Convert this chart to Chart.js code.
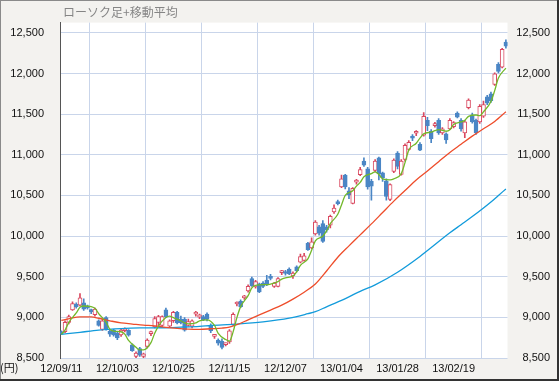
<!DOCTYPE html>
<html lang="ja">
<head>
<meta charset="utf-8">
<script src="https://cdn.jsdelivr.net/npm/chart.js@4"></script>
<style>
  html, body { margin: 0; padding: 0; background: #f3f2ef; }
  #wrap { width: 559px; height: 381px; }
</style>
</head>
<body>
<div id="wrap"><canvas id="chart" width="559" height="381"></canvas></div>
<script>
// date ticks shown every 15 trading days
const dateTicks = ['12/09/11', '12/10/03', '12/10/25', '12/11/15', '12/12/07', '13/01/04', '13/01/28', '13/02/19'];
const yTicks = [8500, 9000, 9500, 10000, 10500, 11000, 11500, 12000, 12500];

// daily candles
const opens = [8825, 8824, 8939, 9093, 9159, 9151, 9178, 9140, 9078, 9032,
  8958, 8851, 8997, 8831, 8843, 8804, 8785, 8835, 8840, 8662,
  8520, 8616, 8520, 8642, 8800, 8881, 8939, 8900, 9093, 8893,
  8958, 9062, 8978, 8978, 8901, 8893, 9040, 9001, 9009, 9040,
  8901, 8766, 8720, 8705, 8665, 8697, 8912, 9165, 9197, 9240,
  9324, 9478, 9375, 9413, 9421, 9459, 9500, 9382, 9382, 9550,
  9563, 9594, 9509, 9621, 9679, 9702, 9910, 9856, 10026, 10114,
  10153, 10114, 10134, 10296, 10423, 10604, 10750, 10557, 10403, 10665,
  10757, 10923, 10827, 10673, 10808, 10962, 10777, 10681, 10450, 10796,
  11020, 10758, 10943, 11066, 11220, 11265, 11128, 11243, 11424, 11290,
  11359, 11424, 11270, 11259, 11320, 11347, 11513, 11424, 11270, 11579,
  11482, 11424, 11405, 11475, 11713, 11752, 11865, 12112, 12080, 12388];
const highs = [8835, 8958, 9028, 9190, 9178, 9294, 9228, 9151, 9101, 9113,
  8970, 8978, 9009, 8843, 8854, 8824, 8862, 8870, 8850, 8675,
  8575, 8630, 8560, 8735, 8830, 9009, 9024, 9020, 9113, 8970,
  9074, 9074, 9015, 8997, 8978, 8970, 9074, 9040, 9024, 9055,
  8920, 8790, 8735, 8735, 8685, 8851, 9055, 9190, 9215, 9270,
  9400, 9495, 9455, 9421, 9440, 9517, 9530, 9430, 9490, 9580,
  9580, 9610, 9560, 9633, 9779, 9787, 9922, 9980, 10191, 10133,
  10191, 10133, 10260, 10384, 10442, 10750, 10760, 10596, 10596, 10700,
  10846, 10962, 10846, 10700, 10943, 10973, 10789, 10704, 10643, 10950,
  11040, 10943, 11135, 11174, 11250, 11297, 11150, 11521, 11460, 11310,
  11400, 11445, 11335, 11270, 11445, 11410, 11530, 11445, 11424, 11690,
  11513, 11440, 11617, 11660, 11733, 11771, 12008, 12135, 12311, 12415];
const lows = [8790, 8812, 8920, 9086, 9113, 9140, 9086, 9101, 9047, 9016,
  8893, 8839, 8843, 8766, 8770, 8727, 8766, 8820, 8770, 8580,
  8500, 8520, 8490, 8625, 8775, 8870, 8900, 8890, 8997, 8880,
  8939, 8920, 8920, 8831, 8893, 8870, 9016, 8985, 8958, 8955,
  8812, 8740, 8658, 8612, 8650, 8680, 8900, 9140, 9120, 9220,
  9310, 9380, 9360, 9305, 9365, 9390, 9460, 9370, 9375, 9525,
  9520, 9525, 9480, 9560, 9670, 9690, 9825, 9845, 10010, 10010,
  9922, 10049, 10100, 10280, 10384, 10596, 10580, 10461, 10395, 10640,
  10742, 10858, 10577, 10442, 10789, 10692, 10673, 10442, 10435, 10780,
  10827, 10750, 10923, 11058, 11174, 11235, 11050, 11230, 11297, 11150,
  11340, 11250, 11250, 11140, 11310, 11330, 11455, 11290, 11210, 11565,
  11390, 11250, 11385, 11460, 11617, 11644, 11853, 12008, 12069, 12311];
const closes = [8795, 8939, 9009, 9170, 9132, 9240, 9101, 9116, 9070, 9101,
  8901, 8958, 8854, 8793, 8785, 8747, 8843, 8850, 8780, 8590,
  8561, 8535, 8550, 8720, 8808, 8985, 9009, 9009, 9009, 8958,
  9062, 8931, 8931, 8843, 8947, 8958, 9047, 9030, 8970, 8978,
  8835, 8772, 8681, 8631, 8672, 8835, 9036, 9172, 9132, 9247,
  9382, 9390, 9440, 9313, 9382, 9413, 9480, 9421, 9478, 9557,
  9540, 9536, 9544, 9575, 9748, 9756, 9833, 9929, 10172, 10037,
  9933, 10076, 10242, 10346, 10400, 10704, 10604, 10511, 10588, 10673,
  10819, 10873, 10604, 10615, 10923, 10769, 10719, 10488, 10635, 10935,
  10858, 10923, 11116, 11155, 11205, 11272, 11058, 11474, 11359, 11200,
  11386, 11270, 11320, 11182, 11424, 11397, 11463, 11320, 11405, 11675,
  11405, 11270, 11598, 11617, 11636, 11667, 11996, 12027, 12299, 12338];

// moving averages read at [candle index, value]
const maShort = [[0, 8793], [1, 8843], [2, 8939], [4, 9055], [5, 9124], [6, 9140], [8, 9132], [9, 9113],
  [10, 9047], [12, 8939], [13, 8854], [14, 8831], [16, 8823], [17, 8793], [18, 8716], [20, 8631],
  [21, 8600], [22, 8600], [24, 8689], [25, 8804], [26, 8893], [28, 8997], [29, 9016], [30, 8997],
  [32, 8958], [33, 8931], [34, 8920], [36, 8931], [37, 8958], [39, 8970], [41, 8900], [42, 8804],
  [44, 8727], [45, 8708], [46, 8824], [47, 8997], [48, 9132], [50, 9267], [51, 9363], [52, 9394],
  [54, 9402], [55, 9402], [56, 9409], [58, 9440], [59, 9471], [60, 9486], [62, 9510], [63, 9560],
  [64, 9640], [66, 9720], [67, 9825], [68, 9941], [70, 9999], [71, 10064], [72, 10153], [74, 10268],
  [75, 10384], [76, 10500], [78, 10558], [79, 10615], [80, 10660], [81, 10731], [83, 10769], [84, 10789],
  [85, 10758], [86, 10704], [88, 10692], [89, 10704], [91, 10769], [92, 10904], [93, 11058], [95, 11143],
  [96, 11205], [97, 11259], [99, 11280], [100, 11297], [101, 11309], [103, 11290], [104, 11309], [105, 11374],
  [107, 11405], [108, 11424], [109, 11474], [111, 11490], [112, 11482], [113, 11528], [115, 11656], [116, 11790],
  [117, 11944], [119, 12068]];
const maMid = [[0, 8962], [3, 8995], [5, 9005], [8, 9005], [10, 8989], [13, 8958], [16, 8931], [19, 8918],
  [22, 8905], [25, 8895], [28, 8877], [31, 8864], [34, 8855], [37, 8852], [40, 8860], [43, 8868],
  [45, 8880], [47, 8910], [50, 8970], [53, 9030], [56, 9090], [59, 9150], [62, 9225], [65, 9310],
  [68, 9410], [71, 9570], [74, 9740], [77, 9880], [80, 10015], [83, 10150], [86, 10290], [89, 10430],
  [92, 10560], [95, 10690], [98, 10800], [101, 10915], [104, 11030], [107, 11130], [110, 11230], [113, 11320],
  [116, 11410], [119, 11530]];
const maLong = [[0, 8790], [5, 8816], [10, 8843], [16, 8862], [21, 8870], [27, 8872], [32, 8880], [37, 8890],
  [40, 8900], [47, 8918], [54, 8945], [61, 8990], [66, 9045], [68, 9070], [71, 9130], [75, 9210],
  [80, 9320], [84, 9400], [90, 9556], [96, 9750], [104, 10040], [107, 10140], [110, 10240], [115, 10420],
  [117, 10500], [119, 10580]];

const upColor = '#d9485f';
const downColor = '#4a86c5';
const gridColor = '#c9d5ea';
const isUp = i => closes[i] >= opens[i];

const wicks = highs.map((h, i) => ({ x: i, y: [lows[i], h] }));
const bodies = opens.map((o, i) => ({ x: i, y: [Math.min(o, closes[i]), Math.max(o, closes[i])] }));
const toPts = arr => arr.map(p => ({ x: p[0], y: p[1] }));

const frame = {
  id: 'frame',
  beforeDraw(chart) {
    const { ctx, chartArea: a, width, height } = chart;
    ctx.save();
    ctx.fillStyle = '#f3f2ef';
    ctx.fillRect(0, 0, width, height);
    ctx.fillStyle = '#ffffff';
    ctx.fillRect(a.left, a.top, a.right - a.left, a.bottom - a.top);
    ctx.restore();
  },
  afterDraw(chart) {
    const { ctx, chartArea: a, width, height } = chart;
    ctx.save();
    ctx.font = '12px "Noto Sans CJK JP"';
    ctx.fillStyle = '#858585';
    ctx.textBaseline = 'middle';
    ctx.fillText('ローソク足+移動平均', a.left + 3, 12);
    ctx.font = '11px "Noto Sans CJK JP"';
    ctx.fillStyle = '#111';
    ctx.fillText('(円)', 0, 368);
    // outer frame
    ctx.fillStyle = '#8a8a8a';
    ctx.fillRect(0, 0, width, 1);
    ctx.fillRect(0, 0, 1, height);
    ctx.fillStyle = '#333';
    ctx.fillRect(width - 2, 0, 2, height);
    ctx.fillRect(0, height - 2, width, 2);
    ctx.restore();
  }
};

const tickFont = { family: '"Liberation Sans", Arial, sans-serif', size: 11 };

new Chart(document.getElementById('chart'), {
  type: 'bar',
  data: {
    datasets: [
      {
        type: 'line', data: toPts(maShort), borderColor: '#72b82a', borderWidth: 1.3,
        pointRadius: 0, cubicInterpolationMode: 'monotone', order: 1
      },
      {
        type: 'line', data: toPts(maMid), borderColor: '#ee4d2b', borderWidth: 1.3,
        pointRadius: 0, cubicInterpolationMode: 'monotone', order: 1
      },
      {
        type: 'line', data: toPts(maLong), borderColor: '#129bdb', borderWidth: 1.3,
        pointRadius: 0, cubicInterpolationMode: 'monotone', order: 1
      },
      {
        data: bodies, barThickness: 4, minBarLength: 2, grouped: false,
        backgroundColor: c => isUp(c.dataIndex) ? '#ffffff' : downColor,
        borderColor: c => isUp(c.dataIndex) ? upColor : downColor,
        borderWidth: 1, borderSkipped: false, order: 2
      },
      {
        data: wicks, barThickness: 1, grouped: false,
        backgroundColor: c => isUp(c.dataIndex) ? upColor : downColor,
        borderWidth: 0, order: 3
      }
    ]
  },
  options: {
    responsive: false,
    animation: false,
    devicePixelRatio: 1,
    layout: { padding: { top: 1, right: 9, bottom: 0, left: 0 } },
    plugins: { legend: { display: false }, tooltip: { enabled: false } },
    scales: {
      x: {
        type: 'linear', min: -0.35, max: 119.43, offset: false,
        afterBuildTicks: s => { s.ticks = dateTicks.map((t, k) => ({ value: k * 15 })); },
        afterFit: s => { s.height = 23; },
        ticks: {
          autoSkip: false, maxRotation: 0, padding: 4, color: '#111', font: tickFont,
          callback: v => dateTicks[Math.round(v / 15)]
        },
        grid: { color: gridColor, drawTicks: false },
        border: { display: false }
      },
      y: {
        position: 'left', min: 8500, max: 12627,
        afterBuildTicks: s => { s.ticks = yTicks.map(v => ({ value: v })); },
        afterFit: s => { s.width = 60; },
        ticks: { padding: 16, color: '#111', font: tickFont, callback: v => v.toLocaleString('en-US') },
        grid: { color: gridColor, drawTicks: false },
        border: { color: '#555', width: 1 }
      },
      y2: {
        position: 'right', min: 8500, max: 12627,
        afterBuildTicks: s => { s.ticks = yTicks.map(v => ({ value: v })); },
        afterFit: s => { s.width = 42.5; },
        ticks: { crossAlign: 'far', color: '#111', font: tickFont, callback: v => v.toLocaleString('en-US') },
        grid: { display: false },
        border: { display: false }
      }
    }
  },
  plugins: [frame]
});
</script>
</body>
</html>
